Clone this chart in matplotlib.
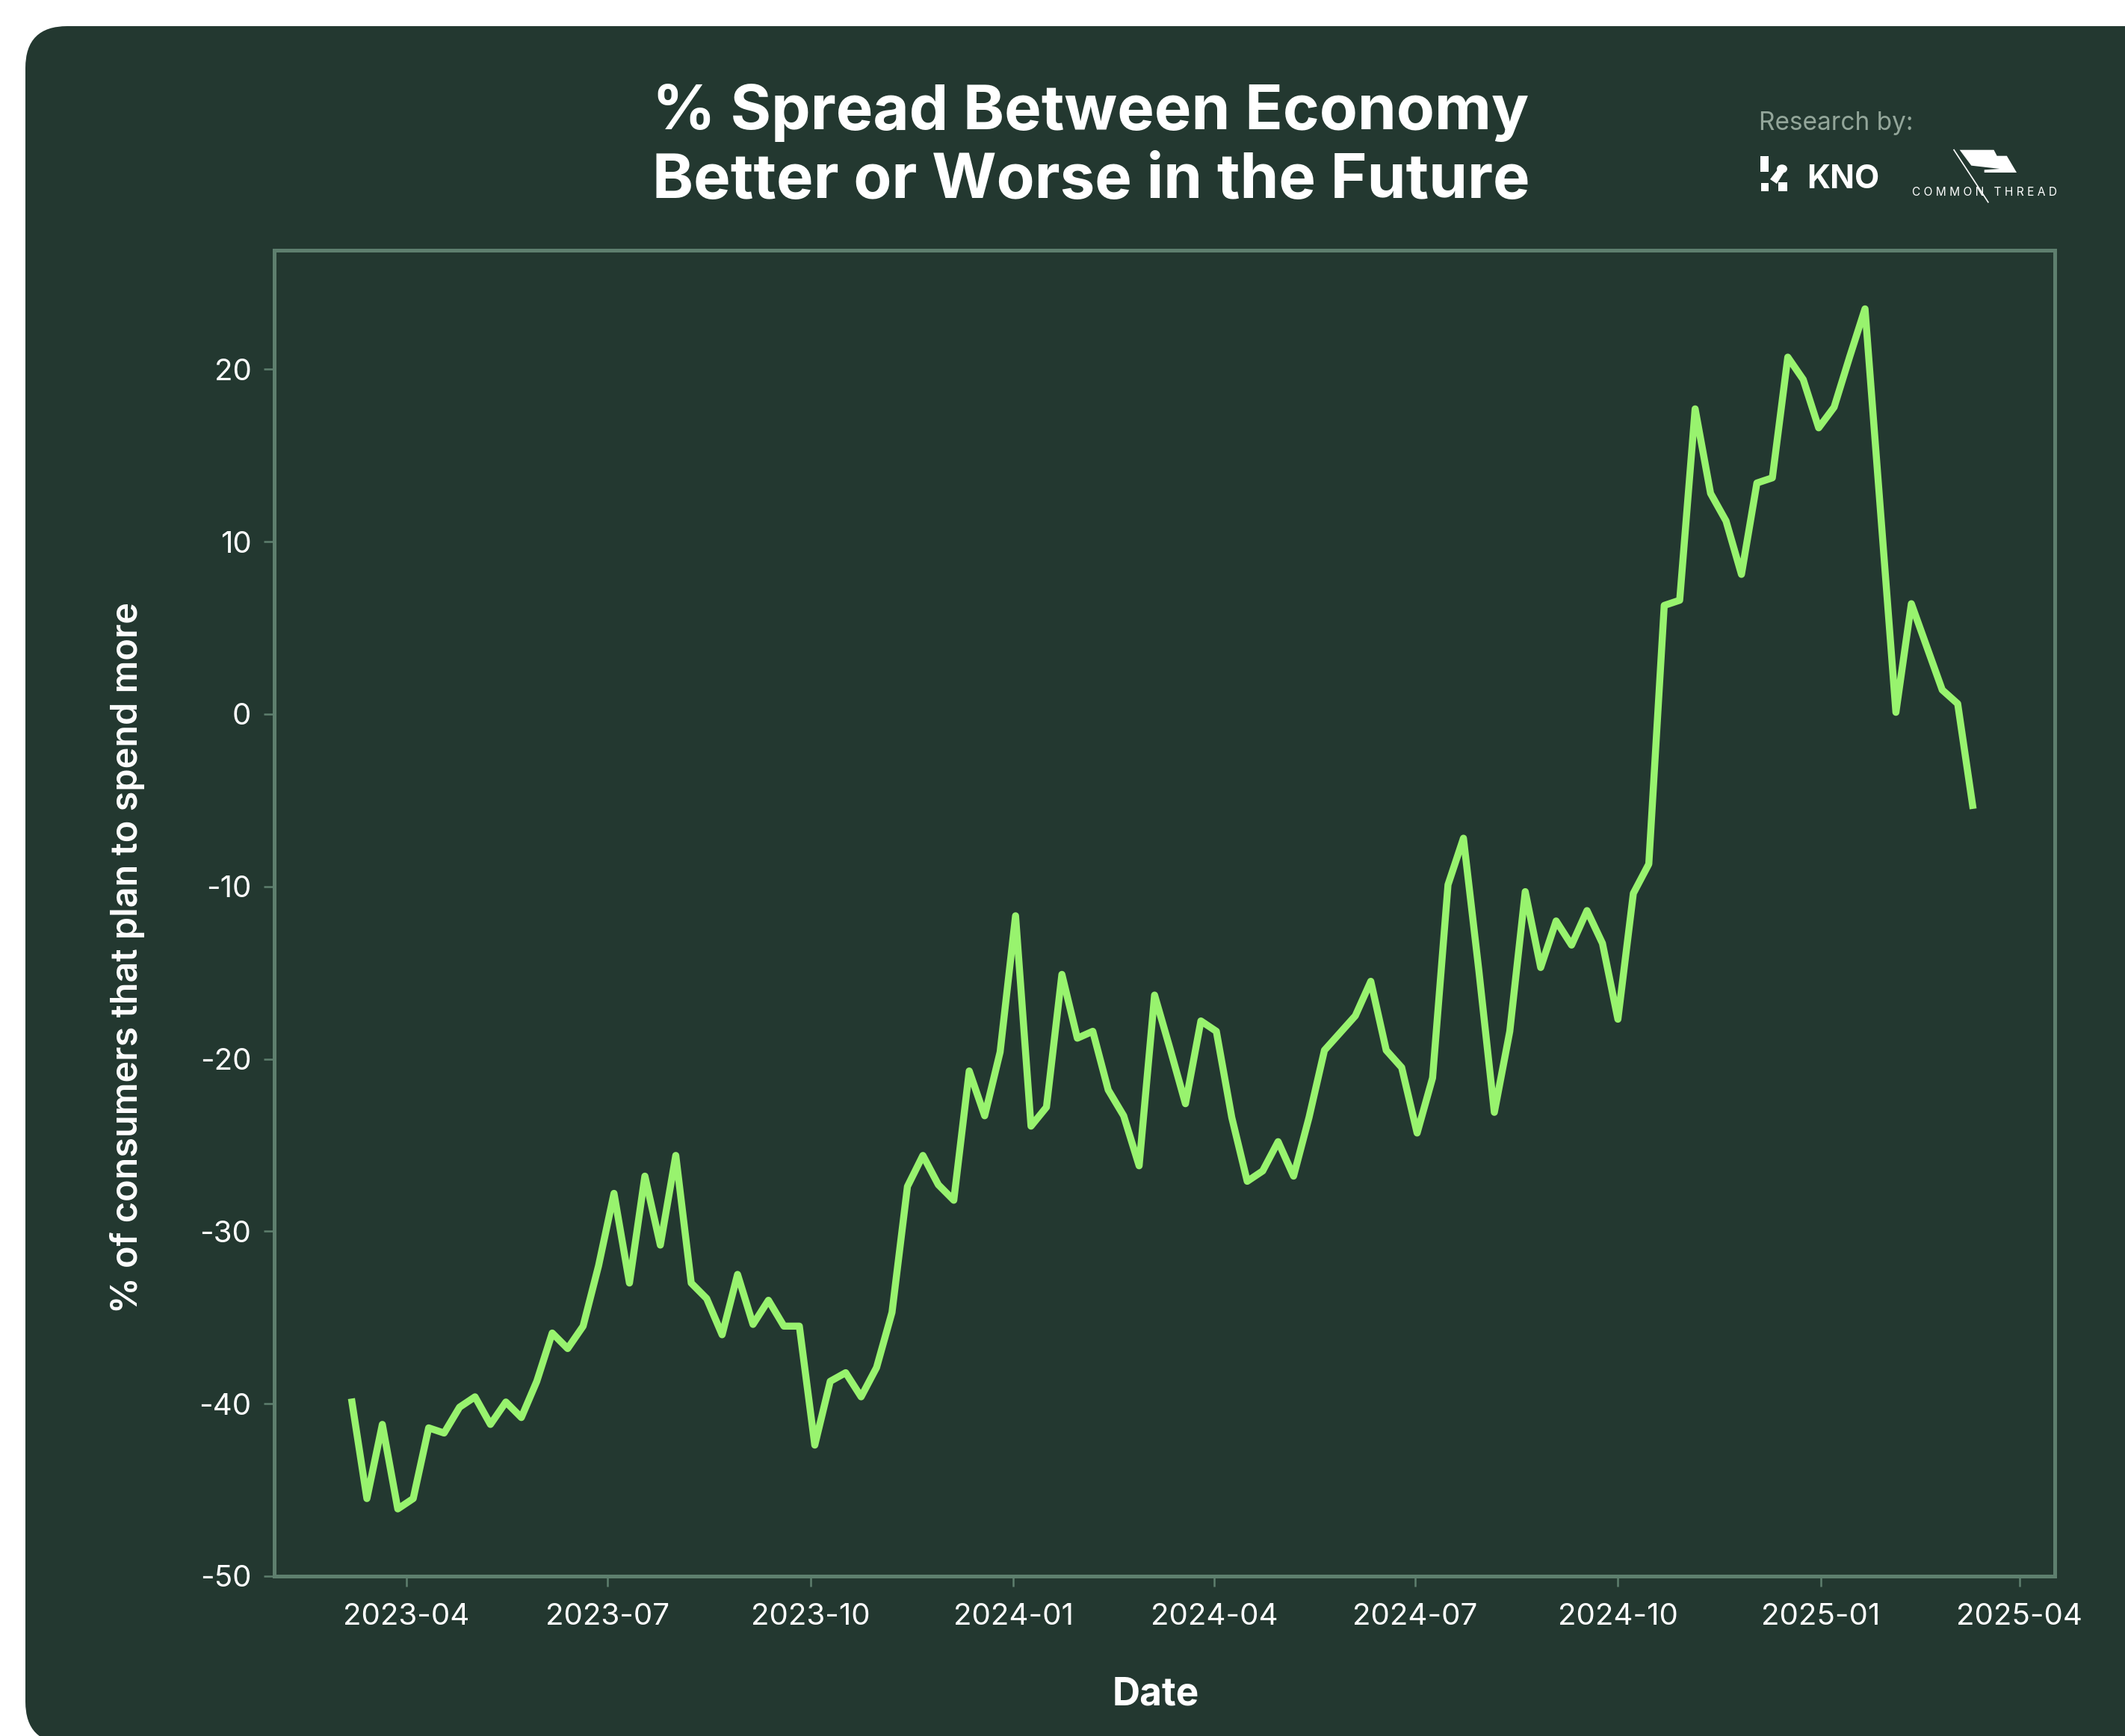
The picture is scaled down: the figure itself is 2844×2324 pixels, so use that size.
import matplotlib
matplotlib.use("Agg")
import matplotlib.pyplot as plt
import matplotlib.dates as mdates
from matplotlib.patches import FancyBboxPatch, Polygon, Rectangle, Circle
import pandas as pd

# ---- data ----
start_date = "2023-03-07"
spread = [-39.7, -45.5, -41.2, -46.1, -45.5, -41.4, -41.7, -40.2, -39.6, -41.2,
          -39.9, -40.8, -38.7, -35.9, -36.8, -35.5, -32.0, -27.8, -33.0, -26.8,
          -30.8, -25.6, -33.0, -33.9, -36.0, -32.5, -35.4, -34.0, -35.5, -35.5,
          -42.4, -38.7, -38.2, -39.6, -37.9, -34.7, -27.4, -25.6, -27.3, -28.2,
          -20.7, -23.3, -19.6, -11.7, -23.9, -22.8, -15.1, -18.8, -18.4, -21.8,
          -23.3, -26.2, -16.3, -19.4, -22.6, -17.8, -18.4, -23.4, -27.1, -26.5,
          -24.8, -26.8, -23.4, -19.5, -18.5, -17.5, -15.5, -19.5, -20.5, -24.3,
          -21.1, -9.9, -7.2, -14.9, -23.1, -18.4, -10.3, -14.7, -12.0, -13.4,
          -11.4, -13.3, -17.7, -10.4, -8.7, 6.3, 6.6, 17.7, 12.8, 11.2,
          8.1, 13.4, 13.7, 20.7, 19.4, 16.6, 17.8, 20.7, 23.5, 11.8,
          0.1, 6.4, 3.9, 1.4, 0.6, -5.5]
dates = pd.date_range(start_date, periods=len(spread), freq="7D")
y_ticks = [-50, -40, -30, -20, -10, 0, 10, 20]
x_ticks = ["2023-04-01", "2023-07-01", "2023-10-01", "2024-01-01", "2024-04-01",
           "2024-07-01", "2024-10-01", "2025-01-01", "2025-04-01"]

title = "% Spread Between Economy\nBetter or Worse in the Future"
y_label = "% of consumers that plan to spend more"
x_label = "Date"

# ---- style ----
BG = "#233830"
FRAME = "#5E7F6E"
LINE = "#98F36E"
W, H, DPI = 2844, 2324, 200
plt.rcParams["font.family"] = ["Inter", "DejaVu Sans"]

fig = plt.figure(figsize=(W / DPI, H / DPI), dpi=DPI, facecolor="white")

def px(x, y):
    return (x / W, 1 - y / H)

# rounded dark card
card = FancyBboxPatch((34 / DPI, -10 / DPI), (W + 200) / DPI, (H - 35 + 10) / DPI,
                      boxstyle="round,pad=0,rounding_size=0.28",
                      transform=fig.dpi_scale_trans, facecolor=BG, edgecolor="none",
                      zorder=0)
fig.add_artist(card)

ax = fig.add_axes([367 / W, 1 - 2110 / H, (2750 - 367) / W, (2110 - 335) / H])
ax.set_facecolor(BG)
ax.plot(dates, spread, color=LINE, lw=3.4, solid_joinstyle="round",
        solid_capstyle="butt", zorder=3)

ax.set_ylim(-50, 26.9)
ax.set_xlim(pd.Timestamp("2023-01-31"), pd.Timestamp("2025-04-17"))
ax.set_yticks(y_ticks)
ax.set_yticklabels([str(v) for v in y_ticks])
ax.set_xticks(pd.to_datetime(x_ticks))
ax.xaxis.set_major_formatter(mdates.DateFormatter("%Y-%m"))

for s in ax.spines.values():
    s.set_color(FRAME)
    s.set_linewidth(1.8)
ax.tick_params(axis="both", colors=FRAME, width=0.9, length=5, labelcolor="white",
               labelsize=14.5)
ax.tick_params(axis="x", pad=8)
ax.tick_params(axis="y", pad=6)

ax.set_xlabel(x_label, color="white", fontsize=18.5, fontweight="bold", labelpad=22)
ax.set_ylabel(y_label, color="white", fontsize=17.5, fontweight="semibold", labelpad=26)
ax.xaxis.label.set_x(0.4952)
ax.yaxis.label.set_y(0.4665)

# title
fig.text(*px(1460, 197), title, ha="center", va="center", color="white",
         fontsize=30, fontweight="bold", linespacing=1.24)

# research by
fig.text(*px(2354, 165), "Research by:", ha="left", va="center", color="#93A69A",
         fontsize=12)

# KNO logo (approximate)
def fx(x):
    return x / W

def fy(y):
    return 1 - y / H

fig.add_artist(Rectangle((fx(2356), fy(230)), 11 / W, 21 / H, transform=fig.transFigure,
                         facecolor="white", edgecolor="none"))
fig.add_artist(Rectangle((fx(2357), fy(256)), 10 / W, 11 / H, transform=fig.transFigure,
                         facecolor="white", edgecolor="none"))
fig.add_artist(Rectangle((fx(2380), fy(256)), 12 / W, 12 / H, transform=fig.transFigure,
                         facecolor="white", edgecolor="none"))
fig.add_artist(Circle((fx(2385), fy(226)), 7 / W, transform=fig.transFigure,
                      facecolor="white", edgecolor="none"))
fig.add_artist(Polygon([(fx(2369), fy(240)), (fx(2383), fy(222)), (fx(2388), fy(230)),
                        (fx(2378), fy(246))], closed=True, transform=fig.transFigure,
                       facecolor="white", edgecolor="none"))
fig.text(fx(2418), fy(241), "KNO", ha="left", va="center", color="white",
         fontsize=15.5, fontweight="bold")

# Common Thread logo (approximate)
def zx(x):
    return fx(2300 + x / 2.882)

def zy(y):
    return fy(120 + y / 3)

flag = [(930, 242), (1062, 242), (1074, 266), (1112, 266), (1150, 333),
        (1025, 333), (1025, 322), (1085, 318), (975, 305)]
fig.add_artist(Polygon([(zx(a), zy(b)) for a, b in flag], closed=True,
                       transform=fig.transFigure, facecolor="white", edgecolor="none"))
fig.add_artist(plt.Line2D([zx(908), zx(1040)], [zy(242), zy(452)],
                          transform=fig.transFigure, color="white", lw=0.6))
fig.text(fx(2559), fy(257), "C O M M O N   T H R E A D", ha="left", va="center",
         color="white", fontsize=5.6)

fig.savefig("out.png", dpi=DPI, facecolor="white")
